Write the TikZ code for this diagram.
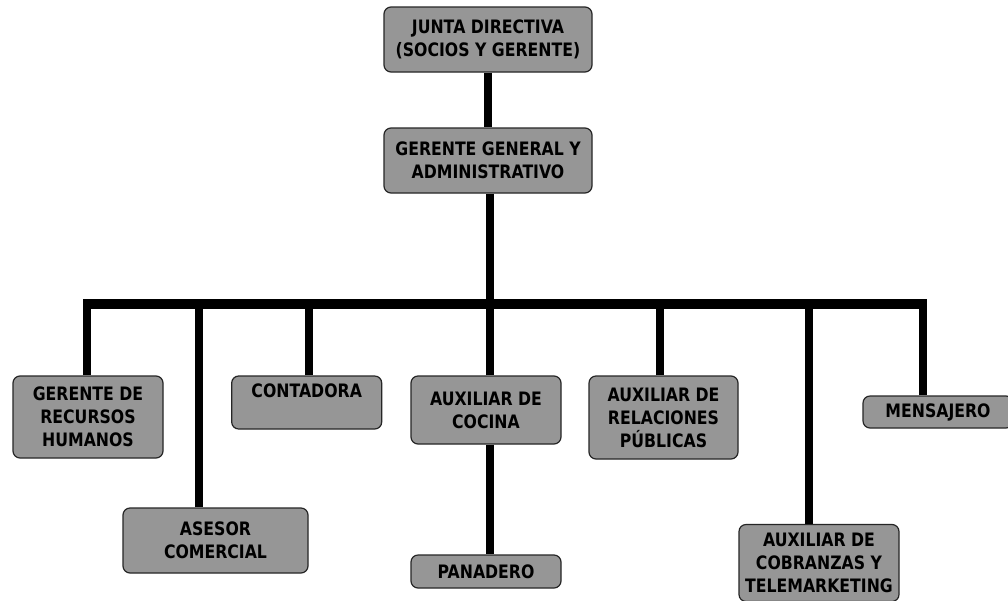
\documentclass[tikz,border=0pt]{standalone}
\usepackage{fontspec}
\setmainfont{DejaVu Sans}[FakeStretch=0.85]
\usepackage{tikz}
\usetikzlibrary{calc}

\definecolor{cajagris}{RGB}{150,150,150}

\begin{document}
\begin{tikzpicture}[
    x=1pt, y=-1pt,
    puesto/.style={rectangle, draw=black!85, line width=1.2pt, fill=cajagris, rounded corners=7pt, minimum width=150pt, inner sep=0pt, align=center, font=\fontsize{18.5}{23}\selectfont\bfseries},
    enlace/.style={line width=8pt, line cap=butt},
    barra/.style={line width=10pt}
]
\useasboundingbox (0,0) rectangle (1008,600);
\fill[white] (0,0) rectangle (1008,600);

% Direccion
\node[puesto, minimum width=208pt, minimum height=65pt] (junta) at (488,39.5) {JUNTA DIRECTIVA\\(SOCIOS Y GERENTE)};
\node[puesto, minimum width=208pt, minimum height=65pt] (gerente) at (488,160.5) {GERENTE GENERAL Y\\ADMINISTRATIVO};

% Puestos
\node[puesto, minimum height=82pt] (grh) at (88,417) {GERENTE DE\\RECURSOS\\HUMANOS};
\node[puesto, minimum height=53pt] (contadora) at (306.7,402.5) {CONTADORA\\\mbox{}};
\node[puesto, minimum width=185pt, minimum height=65pt] (asesor) at (215.5,540.5) {ASESOR\\COMERCIAL};
\node[puesto, minimum height=68pt] (cocina) at (486,410) {AUXILIAR DE\\COCINA};
\node[puesto, minimum height=33pt] (panadero) at (486,571.5) {PANADERO};
\node[puesto, minimum width=149pt, minimum height=83pt] (rrpp) at (663.5,417.5) {AUXILIAR DE\\RELACIONES\\PÚBLICAS};
\node[puesto, minimum width=160pt, minimum height=77pt] (cobranzas) at (819,563) {AUXILIAR DE\\COBRANZAS Y\\TELEMARKETING};
\node[puesto, minimum height=32pt] (mensajero) at (938,412) {MENSAJERO};

% Lineas
\coordinate (barI) at (83,304);
\coordinate (barD) at (927,304);
\draw[enlace] (junta.south) -- (gerente.north);
\draw[enlace] ([xshift=1.5pt]gerente.south) -- ([xshift=1.5pt]gerente.south |- barI);
\draw[barra] (barI) -- (barD);
\draw[enlace] ([xshift=-1pt]grh.north) -- ([xshift=-1pt]grh.north |- barI);
\draw[enlace] ([xshift=-16.5pt]asesor.north) -- ([xshift=-16.5pt]asesor.north |- barI);
\draw[enlace] ([xshift=2pt]contadora.north) -- ([xshift=2pt]contadora.north |- barI);
\draw[enlace] ([xshift=3.5pt]cocina.north) -- ([xshift=3.5pt]cocina.north |- barI);
\draw[enlace] ([xshift=3.5pt]cocina.south) -- ([xshift=3.5pt]panadero.north);
\draw[enlace] ([xshift=-4pt]rrpp.north) -- ([xshift=-4pt]rrpp.north |- barI);
\draw[enlace] ([xshift=-10.5pt]cobranzas.north) -- ([xshift=-10.5pt]cobranzas.north |- barI);
\draw[enlace] ([xshift=-15.5pt]mensajero.north) -- ([xshift=-15.5pt]mensajero.north |- barI);

\end{tikzpicture}
\end{document}
